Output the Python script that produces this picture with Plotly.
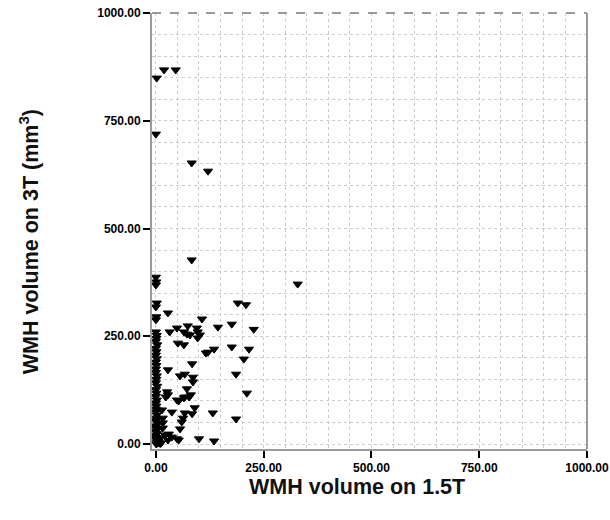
import plotly.graph_objects as go

# WMH volumes (mm3), 1.5T vs 3T
x_15t = [2, 19, 46, 0, 83, 121, 83, 329,
         190, 209, 28, 107, 144, 176, 227, 32, 49, 74, 65, 72, 79,
         95, 97, 102, 97, 51, 65, 116, 121, 135, 176, 216, 204, 84,
         28, 56, 67, 86, 86, 186, 72, 81, 67, 211, 26, 28, 23,
         49, 53, 65, 77, 90, 84, 67, 63, 60, 56, 37, 132, 186,
         14, 16, 16, 16, 100, 135, 21, 30, 37, 49, 53, 28, 9,
         0, 1, 0, 2, 0, 1, 0, 0, 2, 1, 0, 3, 0, 1, 0, 2, 0, 1, 0, 0,
         2, 1, 0, 3, 0, 1, 0, 2, 0, 1, 0, 0, 2, 1, 0, 3, 0, 1, 0, 2,
         0, 1, 0, 5, 2, 4, 1, 6, 3, 8, 10, 5, 12]
y_3t = [849, 868, 868, 719, 652, 633, 427, 371,
        327, 323, 304, 290, 271, 278, 266, 260, 269, 274, 260, 255, 253,
        269, 260, 253, 246, 234, 230, 211, 213, 220, 225, 220, 197, 186,
        172, 158, 162, 155, 144, 162, 128, 114, 109, 118, 121, 114, 109,
        102, 100, 107, 109, 84, 70, 72, 60, 51, 35, 74, 72, 58,
        79, 60, 49, 37, 12, 7, 21, 23, 16, 12, 9, 9, 14,
        387, 376, 369, 327, 318, 295, 288, 260, 252, 245, 238, 230, 222, 214,
        206, 198, 190, 182, 174, 166, 158, 150, 142, 134, 126, 118, 110,
        102, 95, 88, 81, 74, 67, 60, 54, 48, 42, 36, 30, 25, 20,
        15, 11, 7, 4, 2, 0, 5, 9, 3, 1, 6, 2, 4]

tick_vals = [0, 250, 500, 750, 1000]

fig = go.Figure()
fig.add_trace(go.Scatter(x=x_15t, y=y_3t, mode="markers",
                         marker=dict(symbol="triangle-down", size=8,
                                     color="black",
                                     line=dict(color="black", width=1)),
                         showlegend=False))

axis_common = dict(
    tickvals=tick_vals, tickformat=".2f", automargin=False,
    ticks="outside", ticklen=7, tickwidth=2, tickcolor="black",
    tickfont=dict(family="Liberation Sans, Arial", size=12,
                  color="black", weight="bold"),
    showline=True, linecolor="#9a9a9a", linewidth=2,
    showgrid=True, gridcolor="#cccccc", griddash="dot", gridwidth=1,
    minor=dict(dtick=50, tick0=0, showgrid=True, gridcolor="#cccccc",
               griddash="dot", gridwidth=1),
    zeroline=False,
)

fig.update_layout(
    width=610, height=520,
    margin=dict(l=152, r=23, t=13, b=71),
    paper_bgcolor="white", plot_bgcolor="white",
    xaxis=dict(range=[-9, 1000], **axis_common),
    yaxis=dict(range=[-11.6, 1000], **axis_common),
    font=dict(family="Liberation Sans, Arial", color="black"),
    annotations=[
        dict(text="WMH volume on 1.5T", xref="paper", yref="paper",
             x=0.471, y=-0.055, yanchor="top", showarrow=False,
             font=dict(size=21.5, color="#111111", weight="bold")),
        dict(text="WMH volume on 3T (mm<sup>3</sup>)", xref="paper",
             yref="paper", x=-0.282, y=0.475, textangle=-90,
             showarrow=False, xanchor="center",
             font=dict(size=21.5, color="#111111", weight="bold")),
    ],
    shapes=[
        dict(type="line", xref="paper", yref="paper", x0=0, x1=1, y0=1, y1=1,
             line=dict(color="#9a9a9a", width=2, dash="dash")),
        dict(type="line", xref="paper", yref="paper", x0=1, x1=1, y0=0, y1=1,
             line=dict(color="#9a9a9a", width=2)),
    ],
)

# drop the default 8px body margin so the figure fills the window
fig.write_html("out.html", config={"displayModeBar": False},
               post_script="document.body.style.margin='0';")
